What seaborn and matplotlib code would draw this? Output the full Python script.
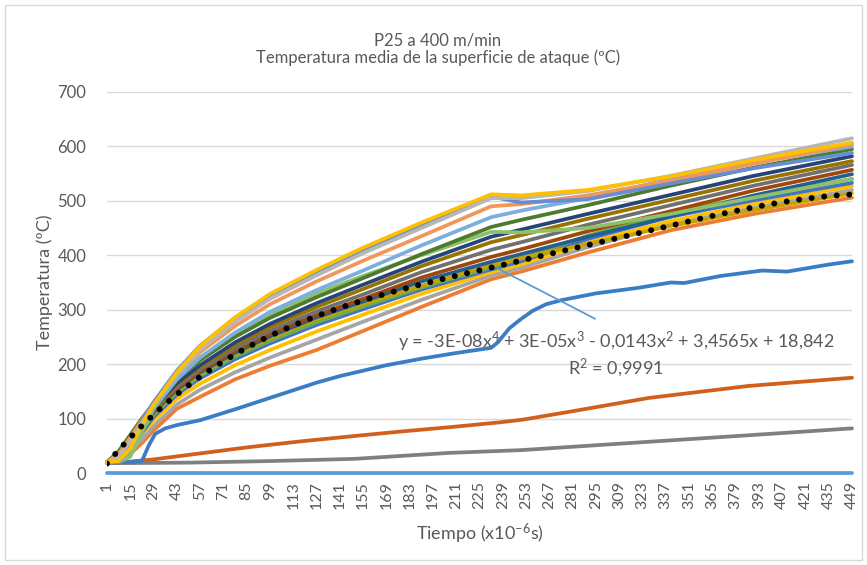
import numpy as np
import pandas as pd
import matplotlib
matplotlib.use("Agg")
import matplotlib.pyplot as plt
import seaborn as sns
from matplotlib.patches import Rectangle

# ---------------- data ----------------
TICK_CATS = list(range(1, 450, 14))
X_MAIN = [1, 8, 15, 22, 29, 43, 57, 78, 99, 127, 155, 190, 232, 250, 290, 340, 390, 449]

s_amarillo  = [20, 22, 45, 88, 125, 185, 233, 286, 329, 373, 414, 460, 512, 510, 520, 545, 575, 607]
s_grisclaro = [20, 30, 58, 92, 125, 180, 226, 278, 320, 363, 404, 450, 505, 505, 518, 546, 578, 615]
s_azul      = [20, 20, 48, 95, 130, 188, 234, 285, 327, 370, 410, 455, 508, 497, 503, 532, 560, 588]
s_naranjacl = [20, 35, 65, 97, 128, 180, 222, 270, 310, 352, 390, 435, 490, 494, 510, 537, 568, 604]
s_azulclaro = [20, 20, 42, 85, 120, 172, 212, 258, 296, 336, 372, 418, 470, 482, 505, 540, 570, 600]
s_verdeosc  = [20, 40, 70, 100, 128, 172, 207, 250, 285, 323, 358, 402, 452, 465, 492, 528, 561, 595]
s_verdecl   = [20, 20, 30, 75, 118, 172, 212, 255, 290, 330, 362, 400, 443, 442, 450, 476, 506, 540]
s_marino    = [20, 35, 62, 92, 120, 165, 198, 240, 274, 312, 346, 388, 434, 447, 476, 511, 546, 582]
s_oliva     = [20, 34, 60, 90, 118, 162, 195, 235, 268, 305, 338, 380, 424, 437, 467, 502, 537, 573]
s_gris      = [20, 33, 58, 88, 115, 158, 190, 229, 261, 297, 328, 369, 410, 424, 456, 492, 528, 566]
s_marron    = [20, 32, 56, 86, 113, 155, 187, 224, 255, 290, 320, 359, 397, 411, 444, 481, 519, 557]
s_azulosc   = [20, 31, 55, 85, 112, 153, 185, 221, 251, 286, 315, 352, 388, 402, 434, 471, 510, 549]
s_verde     = [20, 24, 46, 79, 107, 148, 179, 214, 243, 277, 306, 341, 378, 394, 436, 478, 508, 540]
s_azul2     = [20, 22, 42, 74, 103, 144, 174, 209, 238, 272, 301, 337, 374, 389, 430, 471, 501, 533]
s_amarillo2 = [20, 26, 46, 72, 96, 136, 164, 198, 226, 260, 291, 329, 369, 383, 423, 463, 494, 527]
s_gris2     = [20, 24, 40, 62, 86, 126, 153, 185, 212, 245, 278, 318, 363, 377, 415, 457, 487, 520]
s_tendencia = [20, 36, 58, 86, 112, 152, 184, 219, 248, 283, 311, 344, 382, 395, 421, 454, 483, 514]
s_naranja   = [20, 22, 35, 55, 78, 118, 140, 172, 197, 226, 261, 305, 356, 370, 405, 446, 476, 506]

X_BAJA = [1, 15, 22, 26, 30, 36, 43, 57, 78, 99, 127, 141, 169, 190, 210, 232, 236,
          243, 250, 257, 265, 275, 295, 320, 340, 348, 370, 395, 410, 435, 449]
s_baja = [20, 20, 22, 50, 72, 82, 88, 97, 117, 138, 166, 178, 198, 210, 220, 230, 240,
          266, 283, 298, 310, 318, 330, 340, 350, 349, 362, 372, 370, 383, 389]

X_LENTA = [1, 15, 29, 57, 85, 117, 150, 177, 210, 237, 251, 280, 327, 387, 449]
s_lenta = [20, 21, 25, 36, 47, 58, 68, 76, 85, 93, 98, 113, 138, 160, 175]

X_MUY_LENTA = [1, 50, 100, 150, 207, 250, 300, 350, 400, 449]
s_muy_lenta = [18, 19, 22, 26, 37, 42, 52, 62, 72, 82]

X_CERO = [1, 449]
s_cero = [0, 0]

EQ_TEXT = "y = -3E-08x$^{4}$ + 3E-05x$^{3}$ - 0,0143x$^{2}$ + 3,4565x + 18,842"
R2_TEXT = "R$^{2}$ = 0,9991"

# ---------------- assemble ----------------
series = [
    ("cero", X_CERO, s_cero, "#5B9BD5"),
    ("muy_lenta", X_MUY_LENTA, s_muy_lenta, "#7F7F7F"),
    ("lenta", X_LENTA, s_lenta, "#D2601A"),
    ("baja", X_BAJA, s_baja, "#3A7DC4"),
    ("naranja", X_MAIN, s_naranja, "#ED7D31"),
    ("gris2", X_MAIN, s_gris2, "#A5A5A5"),
    ("amarillo2", X_MAIN, s_amarillo2, "#FFC000"),
    ("azul2", X_MAIN, s_azul2, "#4472C4"),
    ("verde", X_MAIN, s_verde, "#70AD47"),
    ("tendencia", X_MAIN, s_tendencia, "#C9A100"),
    ("azulosc", X_MAIN, s_azulosc, "#255E91"),
    ("marron", X_MAIN, s_marron, "#9E480E"),
    ("gris", X_MAIN, s_gris, "#707070"),
    ("oliva", X_MAIN, s_oliva, "#997300"),
    ("marino", X_MAIN, s_marino, "#264478"),
    ("verdecl", X_MAIN, s_verdecl, "#8CC168"),
    ("verdeosc", X_MAIN, s_verdeosc, "#4E7A2E"),
    ("azulclaro", X_MAIN, s_azulclaro, "#7CAFDD"),
    ("naranjacl", X_MAIN, s_naranjacl, "#F1975A"),
    ("azul", X_MAIN, s_azul, "#698ED0"),
    ("grisclaro", X_MAIN, s_grisclaro, "#B7B7B7"),
    ("amarillo", X_MAIN, s_amarillo, "#FFC000"),
]

rows = []
for name, xs, ys, _ in series:
    for x, y in zip(xs, ys):
        rows.append((name, x, y))
df = pd.DataFrame(rows, columns=["serie", "t", "temp"])
palette = {name: c for name, _, _, c in series}
order = [name for name, _, _, _ in series]

sns.set_theme(style="white")
plt.rcParams["font.family"] = ["Lato", "DejaVu Sans"]
plt.rcParams["mathtext.fontset"] = "custom"
plt.rcParams["mathtext.rm"] = "Lato"
plt.rcParams["mathtext.it"] = "Lato"
plt.rcParams["mathtext.default"] = "regular"

fig = plt.figure(figsize=(8.67, 5.65), dpi=100)
ax = fig.add_axes([107 / 867, 1 - 473 / 565, (852 - 107) / 867, 381 / 565])

sns.lineplot(data=df, x="t", y="temp", hue="serie", hue_order=order, palette=palette,
             estimator=None, sort=False, legend=False, linewidth=2.7, ax=ax)
for ln in ax.lines:
    ln.set_clip_on(False)
    ln.set_zorder(3)

# polynomial trendline (order 4) fitted to the trend series
coef = np.polyfit(X_MAIN, s_tendencia, 4)
xt = np.arange(1, 450)
ax.plot(xt, np.polyval(coef, xt), color="black", lw=4.3,
        linestyle=(0, (0.01, 2.1)), dash_capstyle="round", zorder=5)

# leader line + equation label
x_anchor = 234
ax.annotate("", xy=(x_anchor, np.polyval(coef, x_anchor)), xytext=(296, 281),
            arrowprops=dict(arrowstyle="-", color="#5B9BD5", lw=1.3), zorder=6)
ax.text(307, 241, EQ_TEXT, ha="center", va="center", fontsize=13.0, color="#595959", zorder=7)
ax.text(307, 193, R2_TEXT, ha="center", va="center", fontsize=13.0, color="#595959", zorder=7)

ax.set_xlim(1, 449)
ax.set_ylim(0, 700)
ax.set_yticks(range(0, 701, 100))
ax.set_xticks(TICK_CATS)
ax.set_xticklabels([str(c) for c in TICK_CATS], rotation=90, fontsize=11.5, color="#595959")
ax.tick_params(axis="y", labelsize=12, labelcolor="#595959", length=0, pad=15)
ax.tick_params(axis="x", length=0, pad=6)
ax.grid(axis="y", color="#D9D9D9", lw=1)
ax.set_axisbelow(True)
for s in ["top", "right", "left", "bottom"]:
    ax.spines[s].set_visible(False)

ax.set_xlabel("Tiempo (x10$^{-6}$s)", fontsize=13, color="#595959", labelpad=9)
ax.set_ylabel("Temperatura (ºC)", fontsize=13, color="#595959", labelpad=3)

fig.text(0.505, 1 - 40 / 565, "P25 a 400 m/min", ha="center", va="center",
         fontsize=12, color="#595959")
fig.text(0.505, 1 - 58 / 565, "Temperatura media de la superficie de ataque (ºC)",
         ha="center", va="center", fontsize=12, color="#595959")

fig.patches.append(Rectangle((5 / 867, 5 / 565), 857 / 867, 555 / 565, transform=fig.transFigure,
                             fill=False, edgecolor="#D9D9D9", lw=1))

fig.savefig("out.png", dpi=100)
